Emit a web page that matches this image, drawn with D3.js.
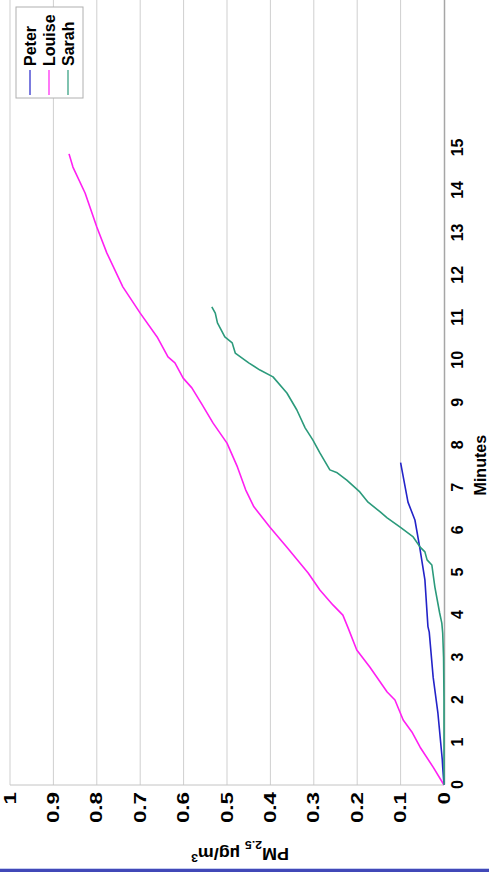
<!DOCTYPE html>
<html><head><meta charset="utf-8">
<script src="https://cdn.jsdelivr.net/npm/d3@7"></script>
<style>body{margin:0;background:#fff;} svg{display:block;}</style>
</head><body>
<script>
const seriesNames = ["Peter", "Louise", "Sarah"];
const seriesColors = ["#2323c8", "#ff1ff2", "#2b9a7b"];

const peterMinutes = [0, 0.42, 0.6, 1.69, 2.54, 3.6, 3.73, 4.83, 5.6, 6.24, 6.66, 7.59];
const peterPM      = [0, 0.003, 0.004, 0.014, 0.025, 0.034, 0.037, 0.044, 0.056, 0.067, 0.083, 0.100];

const louiseMinutes = [0, 0.42, 0.89, 1.25, 1.53, 2.0, 2.19, 2.78, 3.18, 3.7, 4.0, 4.24, 4.59, 4.99, 5.6, 6.07, 6.55, 6.95, 7.49, 8.05, 8.52, 8.95, 9.35, 9.58, 9.94, 10.08, 10.55, 11.11, 11.73, 12.53, 13.14, 13.94, 14.55, 14.86];
const louisePM      = [0, 0.025, 0.055, 0.074, 0.094, 0.113, 0.131, 0.171, 0.201, 0.221, 0.233, 0.256, 0.286, 0.313, 0.362, 0.401, 0.438, 0.457, 0.476, 0.500, 0.532, 0.557, 0.581, 0.601, 0.620, 0.636, 0.661, 0.700, 0.740, 0.777, 0.800, 0.827, 0.855, 0.864];

const sarahMinutes = [0, 1, 2, 3, 3.58, 3.81, 4.05, 4.66, 5.18, 5.3, 5.49, 5.6, 5.84, 6.07, 6.29, 6.43, 6.66, 6.9, 7.18, 7.35, 7.42, 7.82, 8.12, 8.41, 8.83, 9.23, 9.61, 9.77, 9.94, 10.17, 10.41, 10.55, 10.88, 11.11, 11.26];
const sarahPM      = [0, 0, 0, 0.001, 0.003, 0.005, 0.010, 0.021, 0.028, 0.039, 0.044, 0.055, 0.071, 0.101, 0.131, 0.147, 0.175, 0.194, 0.224, 0.246, 0.263, 0.286, 0.302, 0.320, 0.339, 0.362, 0.394, 0.424, 0.450, 0.481, 0.488, 0.505, 0.522, 0.527, 0.535];

const minuteTicks = [0, 1, 2, 3, 4, 5, 6, 7, 8, 9, 10, 11, 12, 13, 14, 15];
const pmTicks = [0, 0.1, 0.2, 0.3, 0.4, 0.5, 0.6, 0.7, 0.8, 0.9, 1];
const pmTickLabels = ["0", "0.1", "0.2", "0.3", "0.4", "0.5", "0.6", "0.7", "0.8", "0.9", "1"];

const FONT = "'Liberation Sans', Arial, sans-serif";
const W = 489, H = 872;
const svg = d3.select("body").append("svg").attr("width", W).attr("height", H)
  .style("font-family", FONT);
svg.append("rect").attr("width", W).attr("height", H).attr("fill", "#fff");

const plotW = 19 * 42.47, plotH = 434;
const g = svg.append("g").attr("transform", "translate(10,785) rotate(-90)");
const x = d3.scaleLinear().domain([0, 19]).range([0, plotW]);
const y = d3.scaleLinear().domain([0, 1]).range([plotH, 0]);

// gridlines
g.append("g").selectAll("line").data(pmTicks.filter(v => v > 0)).join("line")
  .attr("x1", 0).attr("x2", plotW).attr("y1", d => y(d)).attr("y2", d => y(d))
  .attr("stroke", "#cfcfcf").attr("stroke-width", 1);

// left (minute 0) axis line
g.append("line").attr("x1", 0).attr("x2", 0).attr("y1", 0).attr("y2", plotH)
  .attr("stroke", "#c4c4c4").attr("stroke-width", 1);

// minutes axis
const xAxis = g.append("g").attr("transform", `translate(0,${plotH})`)
  .call(d3.axisBottom(x).tickValues(minuteTicks).tickSize(0).tickSizeOuter(0).tickPadding(8));
xAxis.select(".domain").attr("stroke", "#a6a6a6").attr("stroke-width", 1.5);
xAxis.selectAll("text").attr("font-size", 16).attr("font-weight", "bold")
  .attr("font-family", FONT).attr("fill", "#000");

// PM axis
const yAxis = g.append("g")
  .call(d3.axisLeft(y).tickValues(pmTicks).tickFormat((d, i) => pmTickLabels[i]).tickSize(0).tickSizeOuter(0));
yAxis.select(".domain").remove();
yAxis.selectAll("text").attr("font-size", 16).attr("font-weight", "bold")
  .attr("font-family", FONT).attr("fill", "#000")
  .attr("x", -7 / 1.4).attr("transform", "scale(1.4,1)");

// axis titles
g.append("text").attr("transform", `translate(${x(7.53)},476)`)
  .attr("text-anchor", "middle").attr("font-size", 16).attr("font-weight", "bold").text("Minutes");

const yt = g.append("text").attr("transform", `translate(-63,${y(0.47)}) rotate(-90) scale(1.12,1)`)
  .attr("text-anchor", "middle").attr("font-size", 16).attr("font-weight", "bold");
yt.append("tspan").text("PM");
yt.append("tspan").attr("font-size", 11).attr("baseline-shift", "sub").text("2.5");
yt.append("tspan").text(" µg/m");
yt.append("tspan").attr("font-size", 11).attr("baseline-shift", "super").text("3");

// series
const series = [
  { name: seriesNames[0], color: seriesColors[0], mins: peterMinutes, pm: peterPM },
  { name: seriesNames[1], color: seriesColors[1], mins: louiseMinutes, pm: louisePM },
  { name: seriesNames[2], color: seriesColors[2], mins: sarahMinutes, pm: sarahPM }
];
const line = d3.line().x(d => x(d[0])).y(d => y(d[1]));
series.forEach(s => {
  g.append("path").datum(s.mins.map((m, i) => [m, s.pm[i]]))
    .attr("d", line).attr("fill", "none").attr("stroke", s.color)
    .attr("stroke-width", 1.6).attr("stroke-linejoin", "round");
});

// legend
const lg = g.append("g");
lg.append("rect").attr("x", 687).attr("y", 6).attr("width", 91).attr("height", 67)
  .attr("fill", "#fff").attr("stroke", "#b0b0b0").attr("stroke-width", 1);
series.forEach((s, i) => {
  const ly = 20 + 19 * i;
  lg.append("line").attr("x1", 690).attr("x2", 715).attr("y1", ly).attr("y2", ly)
    .attr("stroke", s.color).attr("stroke-width", 1.2);
  lg.append("text").attr("x", 719).attr("y", ly).attr("dy", "0.35em")
    .attr("font-size", 16).attr("font-weight", "bold").text(s.name);
});

// bottom strip
svg.append("rect").attr("x", 0).attr("y", 868).attr("width", W).attr("height", 1).attr("fill", "#c5cdf0");
svg.append("rect").attr("x", 0).attr("y", 869).attr("width", W).attr("height", 3).attr("fill", "#4148b8");
</script>
</body></html>
